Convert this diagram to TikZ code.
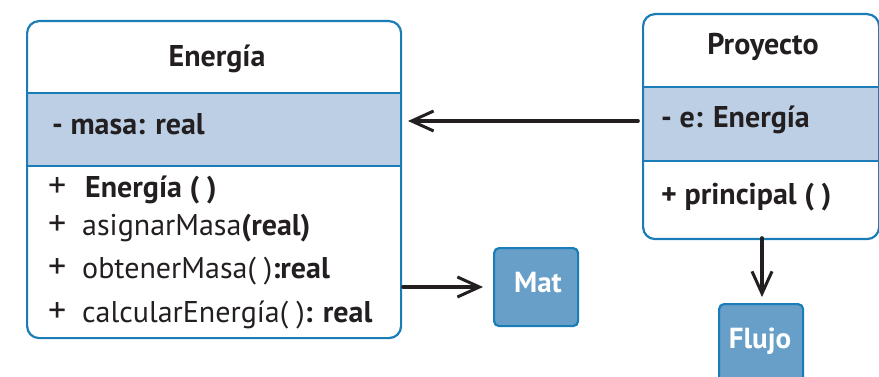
\documentclass[tikz,border=0pt]{standalone}
\usepackage{fontspec}
\setmainfont{PT Sans}
\usetikzlibrary{arrows.meta}
\definecolor{umlblue}{HTML}{1A7DB8}
\definecolor{bandfill}{HTML}{BCCFE4}
\definecolor{modfill}{HTML}{679FC9}
\definecolor{ink}{HTML}{231F20}
\newcommand{\pls}{{\fontsize{36}{34}\selectfont +}}
\tikzset{
  classbox/.style={draw=umlblue, line width=2.2pt, rounded corners=12pt, anchor=north west, inner sep=0pt},
  band/.style={fill=bandfill, draw=umlblue, line width=2.2pt, anchor=north west, inner sep=0pt},
  modbox/.style={fill=modfill, draw=umlblue, line width=2.2pt, rounded corners=5pt, anchor=north west, inner sep=0pt},
  txt/.style={text=ink, inner sep=0pt, font=\fontsize{30}{34}\selectfont},
  btxt/.style={txt, font=\fontsize{30}{34}\selectfont\bfseries},
  wtxt/.style={text=white, inner sep=0pt, font=\fontsize{29}{34}\selectfont\bfseries},
  conn/.style={draw=ink, line width=3.6pt, line cap=round, -{Straight Barb[length=22pt,width=20pt,line width=3pt]}}
}
\begin{document}
\begin{tikzpicture}[x=1pt,y=-1pt]
\useasboundingbox (0,0) rectangle (879,377);
\clip (0,0) rectangle (879,377);
% Energia class
\node[band, minimum width=374pt, minimum height=73pt] (eband) at (26,92) {};
\node[classbox, minimum width=374pt, minimum height=317pt] (energia) at (26,20) {};
\node[btxt, anchor=base] (etitle) at (217,67) {Energía};
\node[btxt, anchor=base west] (eattr) at (52,135) {- masa: real};
\node[txt, anchor=base west] (em1) at (48,197) {\makebox[37pt][l]{\pls}\textbf{Energía ( )}};
\node[txt, anchor=base west] (em2) at (48,236) {\makebox[34pt][l]{\pls}asignarMasa\textbf{(real)}};
\node[txt, anchor=base west] (em3) at (48,278) {\makebox[34pt][l]{\pls}obtenerMasa( )\textbf{:real}};
\node[txt, anchor=base west] (em4) at (48,322) {\makebox[34pt][l]{\pls}calcularEnergía( )\textbf{: real}};
% Proyecto class
\node[band, minimum width=236pt, minimum height=74pt] (pband) at (642,86) {};
\node[classbox, minimum width=236pt, minimum height=225pt] (proyecto) at (642,13) {};
\node[btxt, anchor=base] (ptitle) at (763,55) {Proyecto};
\node[btxt, anchor=base west] (pattr) at (661,128) {- e: Energía};
\node[btxt, anchor=base west] (pm1) at (661,205) {+ principal ( )};
% modules
\node[modbox, minimum width=84pt, minimum height=78pt] (mat) at (493,247) {};
\node[wtxt, anchor=base] (mattxt) at (538,292) {Mat};
\node[modbox, minimum width=84pt, minimum height=100pt] (flujo) at (718,303) {};
\node[wtxt, anchor=base] (flujotxt) at (760,348) {Flujo};
% connectors
\coordinate (a1s) at (638,121);
\coordinate (a1e) at (408,121);
\draw[conn] (a1s) -- (a1e);
\coordinate (a2s) at (403,287);
\coordinate (a2e) at (483,287);
\draw[conn] (a2s) -- (a2e);
\coordinate (a3s) at (762,238);
\coordinate (a3e) at (762,297);
\draw[conn] (a3s) -- (a3e);
\end{tikzpicture}
\end{document}
